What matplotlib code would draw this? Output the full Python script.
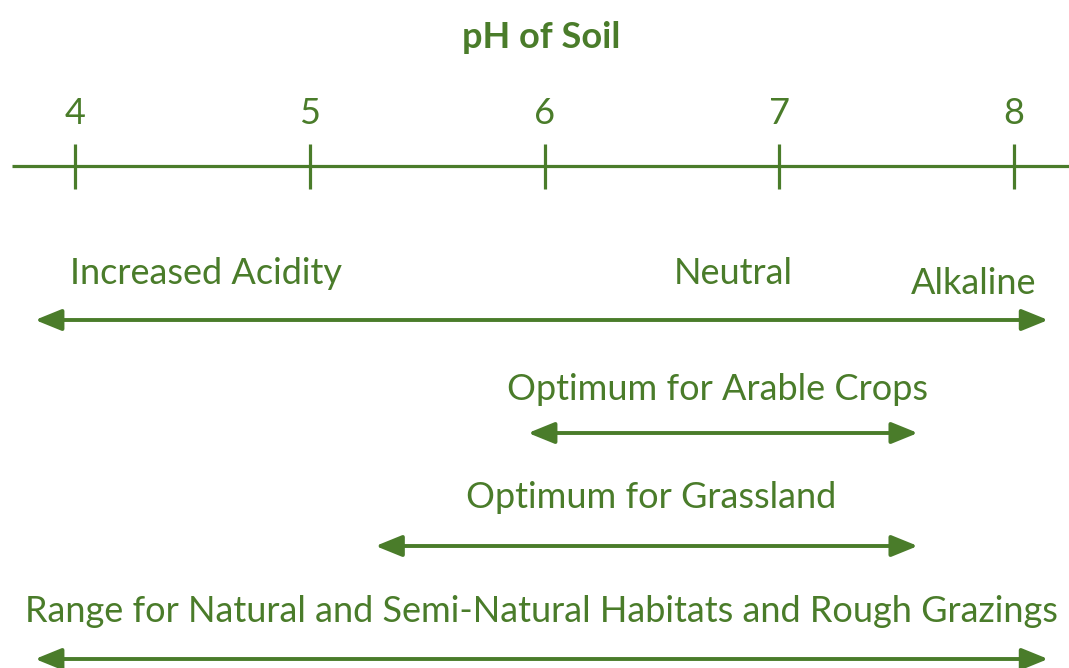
import matplotlib.pyplot as plt
from matplotlib.patches import FancyArrowPatch

GREEN = "#4a7c2a"

# pH scale
ph_ticks = [4, 5, 6, 7, 8]

# ranges drawn as double arrows (pH start, pH end) with label centre
range_labels = ["Optimum for Arable Crops", "Optimum for Grassland",
                "Range for Natural and Semi-Natural Habitats and Rough Grazings"]
range_start = [5.93, 5.28, 3.83]
range_end = [7.59, 7.59, 8.145]
range_label_x = [6.735, 6.456, 5.985]

# acidity scale labels (text, pH position)
scale_labels = ["Increased Acidity", "Neutral", "Alkaline"]
scale_pos = [3.979, 6.803, 7.827]
scale_span = (3.83, 8.145)

plt.rcParams["font.family"] = ["Lato", "DejaVu Sans"]

fig = plt.figure(figsize=(10.69, 6.68), dpi=100)
ax = fig.add_axes([0, 0, 1, 1])
ax.set_xlim(3.6805, 8.234)
ax.set_ylim(668, 0)
ax.axis("off")

FS = 26


def arrow(ax, x0, x1, y):
    a = FancyArrowPatch((x0, y), (x1, y), arrowstyle="<|-|>,head_length=16,head_width=6.5",
                        mutation_scale=1, color=GREEN, lw=2.8, shrinkA=0, shrinkB=0)
    ax.add_patch(a)


# title and axis
ax.text(5.987, 37, "pH of Soil", ha="center", va="center", fontsize=26, fontweight="bold", color=GREEN)
ax.plot([3.732, 8.234], [166, 166], color=GREEN, lw=2.3, solid_capstyle="butt")
for t in ph_ticks:
    ax.plot([t, t], [144, 189], color=GREEN, lw=2.3, solid_capstyle="butt")
    ax.text(t, 113, str(t), ha="center", va="center", fontsize=FS, color=GREEN)

# acidity scale
ax.text(scale_pos[0], 273, scale_labels[0], ha="left", va="center", fontsize=FS, color=GREEN)
ax.text(scale_pos[1], 273, scale_labels[1], ha="center", va="center", fontsize=FS, color=GREEN)
ax.text(scale_pos[2], 283, scale_labels[2], ha="center", va="center", fontsize=FS, color=GREEN)
arrow(ax, scale_span[0], scale_span[1], 320)

# ranges
label_y = [389, 498, 612]
arrow_y = [433, 546, 659]
for lab, s, e, cx, ly, ay in zip(range_labels, range_start, range_end, range_label_x, label_y, arrow_y):
    ax.text(cx, ly, lab, ha="center", va="center", fontsize=FS, color=GREEN)
    arrow(ax, s, e, ay)

fig.savefig("out.png", dpi=100)
